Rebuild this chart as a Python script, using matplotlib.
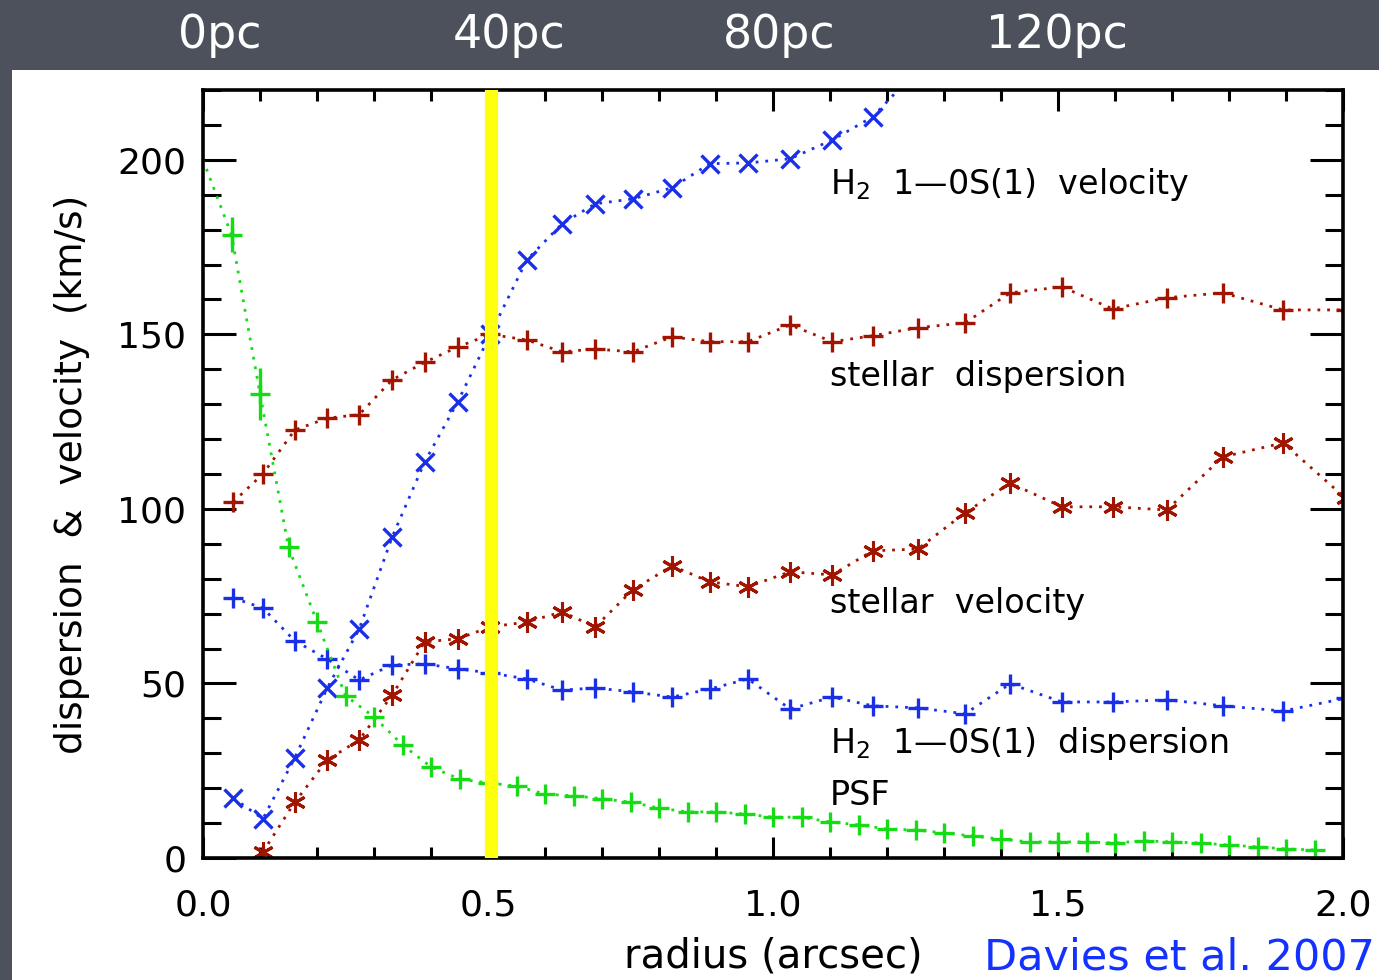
import matplotlib
matplotlib.use("Agg")
import matplotlib.pyplot as plt
from matplotlib.patches import Rectangle
from matplotlib.ticker import MultipleLocator, FormatStrFormatter

# ---------------- data ----------------
# radial bins for the stellar / H2 series (arcsec)
r_bins = [0.053, 0.105, 0.161, 0.218, 0.274, 0.332, 0.389, 0.447, 0.504,
          0.568, 0.630, 0.688, 0.754, 0.823, 0.889, 0.956, 1.030, 1.104,
          1.175, 1.254, 1.337, 1.416, 1.507, 1.596, 1.691, 1.789, 1.895, 2.005]

stellar_disp = [102, 110, 122.6, 126, 127, 137, 142, 146.4, 150,
                148.4, 145, 145.8, 145, 149.3, 147.9, 147.9, 152.7, 147.9,
                149.6, 151.9, 153.3, 161.9, 163.6, 157.3, 160.5, 161.9, 157.0, 157.0]

h2_disp = [74.5, 71.6, 62.2, 57.0, 51.0, 55.3, 55.6, 54.2, 53.0,
           51.3, 48.1, 48.7, 47.6, 46.1, 48.4, 51.3, 42.7, 46.1,
           43.6, 43.0, 41.3, 49.9, 44.7, 44.7, 45.3, 43.6, 42.1, 45.8]

# stellar velocity starts at the second bin
stellar_vel_r = r_bins[1:]
stellar_vel = [1.7, 16.0, 28.1, 33.8, 46.7, 61.9, 62.8, 66.2,
               67.6, 70.5, 66.2, 76.8, 83.7, 79.1, 77.7, 82.0, 81.1,
               88.0, 88.5, 98.9, 107.4, 100.6, 100.6, 99.7, 114.9, 118.9, 103.0]

# H2 velocity (leaves the top of the frame after ~1.2")
h2_vel_r = r_bins[:20]
h2_vel = [17.2, 11.2, 28.7, 48.7, 65.6, 92.0, 113.5, 130.7, 150.0,
          171.3, 181.7, 187.4, 188.8, 192.0, 198.9, 199.1, 200.3, 205.7,
          212.3, 226.0]

# PSF profile
psf_r = [0.00, 0.05, 0.10, 0.15, 0.20, 0.25, 0.30, 0.35, 0.40, 0.45, 0.50,
         0.55, 0.60, 0.65, 0.70, 0.75, 0.80, 0.85, 0.90, 0.95, 1.00,
         1.05, 1.10, 1.15, 1.20, 1.25, 1.30, 1.35, 1.40, 1.45, 1.50,
         1.55, 1.60, 1.65, 1.70, 1.75, 1.80, 1.85, 1.90, 1.95]
psf = [200, 178.5, 133, 89, 67.6, 46.5, 40.4, 32.4, 26.1, 22.6, 21.5,
       20.6, 18.3, 17.8, 17.0, 16.0, 14.3, 13.2, 13.2, 12.6, 11.7,
       11.7, 10.3, 9.5, 8.3, 8.0, 7.2, 6.3, 5.4, 4.6, 4.6,
       4.6, 4.3, 4.9, 4.6, 4.3, 3.7, 3.2, 2.6, 2.3]
psf_err_r = [0.05, 0.10]
psf_err_v = [178.5, 133]
psf_err = [5, 7.5]

marked_radius = 0.5045

x_ticks = [0.0, 0.5, 1.0, 1.5, 2.0]
y_ticks = [0, 50, 100, 150, 200]
top_labels = ["0pc", "40pc", "80pc", "120pc"]

# ---------------- style ----------------
BLUE = "#1a30e8"
RED = "#a01400"
GREEN = "#16dc16"
BG = "#4c515b"

plt.rcParams["font.family"] = ["DejaVu Sans"]

fig = plt.figure(figsize=(13.79, 9.80), dpi=100, facecolor=BG)
# white slide panel
fig.patches.append(Rectangle((12 / 1379, 0), 1 - 12 / 1379, 910 / 980,
                             transform=fig.transFigure, facecolor="white",
                             edgecolor="none", zorder=-5))

ax = fig.add_axes([203 / 1379, 1 - 858 / 980, 1140 / 1379, 768 / 980])
ax.set_facecolor("white")
ax.set_xlim(0, 2.0)
ax.set_ylim(0, 220)

ls = (0, (1, 2.5))
lw = 2.0
ms = 15
mew = 2.4

ax.plot(r_bins, stellar_disp, color=RED, ls=ls, lw=lw, marker="+",
        ms=ms, mew=mew, clip_on=True)
ax.plot(r_bins, h2_disp, color=BLUE, ls=ls, lw=lw, marker="+",
        ms=ms, mew=mew)
ax.plot(stellar_vel_r, stellar_vel, color=RED, ls=ls, lw=lw,
        marker=(6, 2, 0), ms=ms, mew=2.2)
ax.plot(h2_vel_r, h2_vel, color=BLUE, ls=ls, lw=lw, marker="x",
        ms=13, mew=mew)
ax.plot(psf_r, psf, color=GREEN, ls=ls, lw=lw, marker="+", ms=ms,
        mew=mew, markevery=list(range(1, len(psf_r))))
ax.errorbar(psf_err_r, psf_err_v, yerr=psf_err, fmt="none", ecolor=GREEN,
            elinewidth=2.4, capsize=0)

# yellow marker band
ax.axvline(marked_radius, color="#ffff10", lw=9.5, zorder=10)

# in-plot labels
txt = dict(fontsize=24, color="black", ha="left", va="center")
ax.text(1.10, 192.8, "H$_2$  1\u20140S(1)  velocity", **txt)
ax.text(1.10, 137.8, "stellar  dispersion", **txt)
ax.text(1.10, 72.8, "stellar  velocity", **txt)
ax.text(1.10, 32.7, "H$_2$  1\u20140S(1)  dispersion", **txt)
ax.text(1.10, 18.0, "PSF", **txt)

# axes styling
ax.set_xticks(x_ticks)
ax.set_yticks(y_ticks)
ax.xaxis.set_major_formatter(FormatStrFormatter("%.1f"))
ax.xaxis.set_minor_locator(MultipleLocator(0.1))
ax.yaxis.set_minor_locator(MultipleLocator(10))
ax.tick_params(which="both", direction="in", top=True, right=True,
               width=2.2, colors="black", labelsize=26)
ax.tick_params(axis="x", which="major", length=15, pad=22)
ax.tick_params(axis="x", which="minor", length=8)
ax.tick_params(axis="y", which="major", length=24, pad=12)
ax.tick_params(axis="y", which="minor", length=13)
for s in ax.spines.values():
    s.set_linewidth(2.6)

ax.set_xlabel("radius (arcsec)", fontsize=29, labelpad=10)
ax.set_ylabel("dispersion  &  velocity  (km/s)", fontsize=27, labelpad=20)

# top physical-scale labels
for lab, px in zip(top_labels, [220, 509, 779, 1057]):
    fig.text(px / 1379, 1 - 35 / 980, lab, color="white", fontsize=33,
             ha="center", va="center")

fig.text(1375 / 1379, 1 - 957 / 980, "Davies et al. 2007", color="#1432ff",
         fontsize=31, ha="right", va="center")

fig.savefig("out.png", dpi=100, facecolor=BG)
